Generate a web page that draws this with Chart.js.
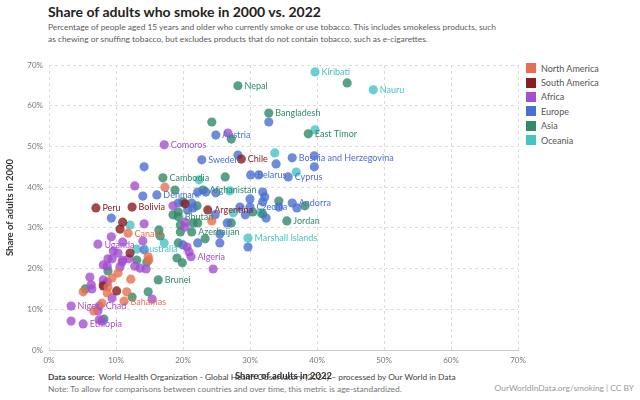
<!DOCTYPE html>
<html>
<head>
<meta charset="utf-8">
<script src="https://cdn.jsdelivr.net/npm/chart.js@4/dist/chart.umd.min.js"></script>
<style>
  body { margin: 0; width: 640px; height: 400px; background: #fff; font-family: Lato, sans-serif; position: relative; overflow: hidden; }
  #title { position: absolute; left: 48px; top: 3px; font-size: 14px; font-weight: 700; color: #222; white-space: nowrap; }
  #subtitle { position: absolute; left: 48px; top: 21px; font-size: 8.4px; line-height: 12px; color: #5b5b5b; white-space: nowrap; }
  #legend { position: absolute; left: 526px; top: 61px; font-size: 9px; color: #555; }
  #legend div { height: 14.4px; display: flex; align-items: center; }
  #legend span { display: inline-block; width: 10px; height: 10px; margin-right: 5px; }
  #footer { position: absolute; left: 48px; top: 371px; font-size: 8.4px; line-height: 12px; color: #444; white-space: nowrap; }
  #footer .note { color: #777; }
  #credit { position: absolute; right: 6px; top: 383px; font-size: 8.4px; color: #999; }
  canvas { position: absolute; left: 0; top: 0; }
</style>
</head>
<body>
<div id="title">Share of adults who smoke in 2000 vs. 2022</div>
<div id="subtitle">Percentage of people aged 15 years and older who currently smoke or use tobacco. This includes smokeless products, such<br>as chewing or snuffing tobacco, but excludes products that do not contain tobacco, such as e-cigarettes.</div>
<div id="legend"></div>
<div id="footer"><b>Data source:</b>&nbsp;&nbsp;World Health Organization - Global Health Observatory (2024) – processed by Our World in Data<br><span class="note">Note: To allow for comparisons between countries and over time, this metric is age-standardized.</span></div>
<div id="credit">OurWorldInData.org/smoking | CC BY</div>
<canvas id="chart" width="640" height="400"></canvas>
<script>
// [country, share in 2022 (%), share in 2000 (%)]; '' = unlabeled point
const northAmerica = [
  ['', 17.3, 40.0], ['', 24.3, 31.7], ['Canada', 11.8, 28.7], ['', 14.8, 22.9], ['', 14.9, 22.1],
  ['', 10.3, 18.9], ['', 9.4, 17.7], ['', 8.8, 15.5], ['', 12.2, 17.4], ['', 5.1, 14.3],
  ['', 8.7, 14.0], ['', 11.6, 14.3], ['Bahamas', 11.2, 12.0], ['', 7.9, 11.5], ['', 6.7, 9.6]
]
const southAmerica = [
  ['Chile', 28.7, 46.9], ['Argentina', 23.7, 34.4], ['Peru', 7.0, 34.9], ['Bolivia', 12.4, 35.1],
  ['', 20.3, 35.9], ['', 11.0, 31.4], ['', 10.6, 29.7], ['', 12.1, 23.8], ['', 8.1, 15.7], ['', 10.1, 14.5]
]
const africa = [
  ['', 26.7, 53.3], ['Comoros', 17.2, 50.4], ['', 12.8, 40.3], ['', 18.5, 35.4], ['', 14.2, 31.0],
  ['', 9.3, 27.8], ['Uganda', 7.3, 26.0], ['', 11.0, 26.5], ['', 14.0, 26.8], ['', 20.3, 31.4],
  ['', 20.3, 30.2], ['', 20.6, 25.3], ['', 20.9, 24.1], ['Algeria', 21.2, 22.9], ['', 24.5, 19.9],
  ['', 9.6, 24.3], ['', 10.3, 23.8], ['', 8.8, 22.4], ['', 9.4, 22.4], ['', 11.9, 22.4],
  ['', 8.1, 20.9], ['', 8.7, 20.6], ['', 10.9, 21.6], ['', 10.6, 20.4], ['', 11.0, 22.1],
  ['', 12.8, 20.6], ['', 13.6, 20.1], ['', 14.5, 19.9], ['', 6.1, 17.9], ['', 8.1, 17.2],
  ['', 8.1, 16.0], ['', 8.7, 16.7], ['', 6.3, 16.0], ['', 6.4, 15.0], ['', 9.4, 12.8],
  ['', 15.4, 12.5], ['Niger', 3.3, 10.8], ['Chad', 7.5, 10.8], ['', 7.3, 9.6], ['', 3.3, 7.1],
  ['Ethiopia', 5.1, 6.4], ['', 7.5, 7.4], ['', 7.9, 7.1]
]
const europe = [
  ['', 32.8, 56.0], ['Austria', 24.9, 52.8], ['', 28.2, 47.9], ['Sweden', 22.8, 46.7],
  ['Bosnia and Herzegovina', 36.3, 47.2], ['', 39.6, 47.7], ['', 33.9, 45.7], ['', 39.6, 45.0],
  ['Belarus', 30.1, 43.0], ['', 31.3, 43.0], ['Cyprus', 35.7, 42.5], ['', 14.2, 45.0],
  ['', 14.0, 37.8], ['Denmark', 16.1, 38.1], ['', 22.2, 38.8], ['', 23.4, 38.8], ['', 24.9, 38.6],
  ['', 31.9, 38.8], ['', 32.2, 37.6], ['', 30.0, 37.1], ['', 34.3, 35.1], ['Andorra', 36.3, 36.1],
  ['', 37.0, 34.9], ['Czechia', 30.0, 35.1], ['', 28.5, 35.1], ['', 29.3, 33.2], ['', 32.4, 32.4],
  ['', 24.8, 33.2], ['', 19.3, 36.1], ['', 21.3, 36.1], ['', 21.5, 34.9], ['', 20.7, 34.4],
  ['', 26.6, 31.2], ['', 25.5, 28.5], ['', 25.5, 26.3], ['', 22.2, 26.3], ['', 29.7, 25.3],
  ['', 14.2, 24.6], ['', 20.0, 25.8], ['', 9.3, 32.4], ['', 31.9, 36.4]
]
const asia = [
  ['', 44.5, 65.6], ['Nepal', 28.2, 64.9], ['Bangladesh', 32.8, 58.2], ['', 24.3, 56.0],
  ['East Timor', 38.7, 53.1], ['', 27.2, 51.8], ['', 26.3, 42.5], ['Cambodia', 17.0, 42.3],
  ['', 18.8, 39.3], ['Afghanistan', 23.0, 39.3], ['', 34.3, 36.6], ['', 38.2, 35.4],
  ['', 30.4, 33.9], ['', 31.9, 33.4], ['Jordan', 35.5, 31.7], ['', 27.2, 31.2], ['', 20.0, 36.4],
  ['', 22.1, 35.4], ['', 18.5, 33.2], ['', 19.3, 33.9], ['Bhutan', 19.3, 32.7], ['', 19.6, 30.7],
  ['', 19.6, 29.0], ['', 21.5, 31.2], ['', 22.2, 31.2], ['Azerbaijan', 21.3, 29.0], ['', 23.3, 27.3],
  ['', 19.3, 26.3], ['', 16.4, 29.5], ['', 16.6, 28.0], ['', 19.1, 22.6], ['', 19.9, 21.4],
  ['', 13.1, 22.1], ['', 14.6, 21.6], ['', 8.8, 19.4], ['Brunei', 16.3, 17.2], ['', 5.4, 15.0],
  ['', 12.4, 13.0], ['', 14.8, 14.3], ['', 8.2, 7.6]
]
const oceania = [
  ['Kiribati', 39.7, 68.3], ['Nauru', 48.4, 63.9], ['', 39.7, 54.1], ['', 33.7, 48.4], ['', 36.9, 43.7],
  ['', 22.4, 41.8], ['', 27.0, 39.1], ['', 27.5, 33.7], ['', 31.6, 33.7], ['Marshall Islands', 29.7, 27.5],
  ['', 12.1, 30.7], ['', 17.2, 26.3], ['Australia', 13.1, 24.8]
]

const regionNames = ['North America', 'South America', 'Africa', 'Europe', 'Asia', 'Oceania']
const regionData = [northAmerica, southAmerica, africa, europe, asia, oceania]
const regionColors = ['#e5704e', '#8b1c22', '#a34fd0', '#4a6fcf', '#2f8a68', '#45c3c6']
const axisTicks = [0, 10, 20, 30, 40, 50, 60, 70]

const legend = document.getElementById('legend')
regionNames.forEach((n, i) => {
  legend.innerHTML += `<div><span style="background:${regionColors[i]}"></span>${n}</div>`
})

// country names next to their dots
const pointLabels = {
  id: 'pointLabels',
  afterDatasetsDraw(chart) {
    const c = chart.ctx
    c.save()
    c.font = '9px Lato'
    c.textBaseline = 'middle'
    chart.data.datasets.forEach((ds, i) => {
      chart.getDatasetMeta(i).data.forEach((el, j) => {
        const name = ds.data[j].name
        if (!name) return
        c.fillStyle = regionColors[i]
        c.fillText(name, el.x + 6.5, el.y + 0.5)
      })
    })
    c.restore()
  }
}

const ctx = document.getElementById('chart').getContext('2d')
new Chart(ctx, {
  type: 'scatter',
  data: {
    datasets: regionData.map((rows, i) => ({
      label: regionNames[i],
      data: rows.map(r => ({ x: r[1], y: r[2], name: r[0] })),
      backgroundColor: regionColors[i] + 'cc',
      borderWidth: 0,
      pointRadius: 4.6,
      pointHoverRadius: 4.6
    }))
  },
  options: {
    responsive: false,
    animation: false,
    layout: { padding: { top: 65, right: 122, bottom: 14, left: 0 } },
    plugins: { legend: { display: false }, tooltip: { enabled: false } },
    scales: {
      x: {
        min: 0, max: 70,
        afterFit: s => { s.height = 36 },
        afterBuildTicks: s => { s.ticks = axisTicks.map(v => ({ value: v })) },
        grid: { color: '#dcdcdc', drawTicks: false },
        border: { display: true, color: '#ccc', dash: [3, 3] },
        ticks: { padding: 6, color: '#777', font: { size: 8, family: 'Lato' }, callback: v => v + '%' },
        title: { display: true, text: 'Share of adults in 2022', color: '#333', font: { size: 9.5, weight: 'bold', family: 'Lato' } }
      },
      y: {
        min: 0, max: 70,
        afterFit: s => { s.width = 49 },
        afterBuildTicks: s => { s.ticks = axisTicks.map(v => ({ value: v })) },
        grid: { color: '#dcdcdc', drawTicks: false },
        border: { display: false, dash: [3, 3] },
        ticks: { padding: 6, color: '#777', font: { size: 8, family: 'Lato' }, callback: v => v + '%' },
        title: { display: true, text: 'Share of adults in 2000', color: '#333', font: { size: 9.5, weight: 'bold', family: 'Lato' } }
      }
    }
  },
  plugins: [pointLabels]
})
</script>
</body>
</html>
